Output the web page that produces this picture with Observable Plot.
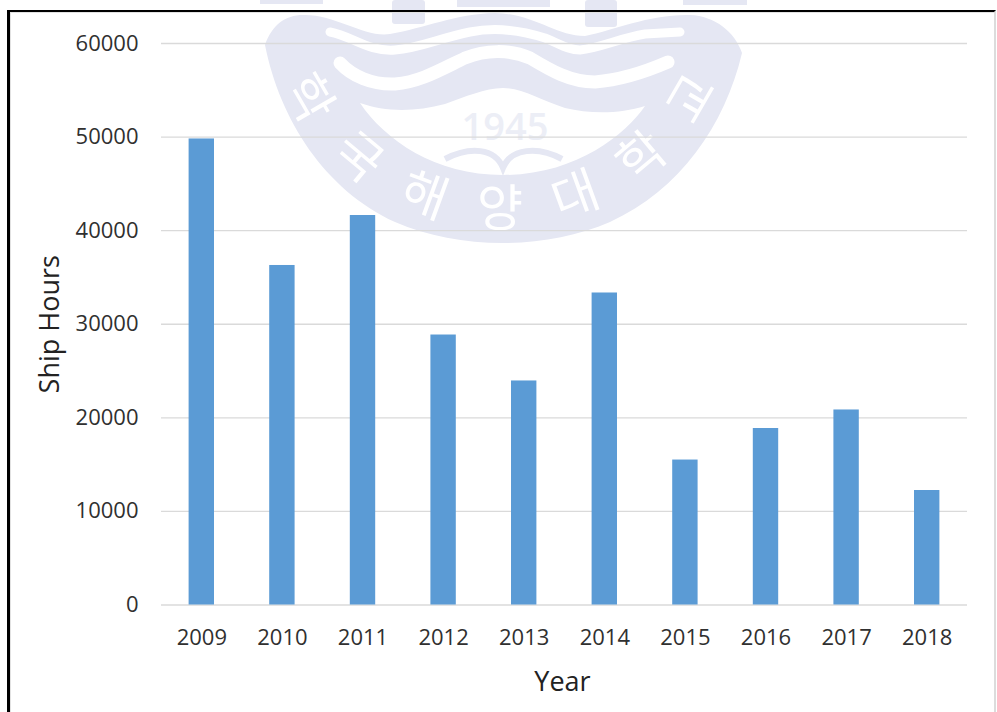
<!DOCTYPE html>
<html>
<head>
<meta charset="utf-8">
<script src="https://cdn.jsdelivr.net/npm/d3@7"></script>
<script src="https://cdn.jsdelivr.net/npm/@observablehq/plot@0.6"></script>
<style>
  html, body { margin: 0; padding: 0; background: #fff; width: 997px; height: 712px; overflow: hidden; }
  #wrap { position: relative; width: 997px; height: 712px; }
  #wm { position: absolute; left: 0; top: 0; }
  #chart { position: absolute; left: 0; top: 0; }
  #frame { position: absolute; left: 7px; top: 10px; width: 989px; height: 720px;
           box-sizing: border-box; border-left: 3px solid #000; border-top: 2px solid #000; border-right: 2px solid #dcdcdc;
           box-shadow: inset 1px 1px 0 #e2e2e2; }
</style>
</head>
<body>
<div id="wrap">
  <svg id="wm" width="997" height="712" viewBox="0 0 997 712">
    <g fill="#e5e7f3">
      <rect x="392" y="0" width="33" height="24" rx="3"/>
      <rect x="585" y="0" width="32" height="27" rx="3"/>
      <rect x="457" y="0" width="93" height="7"/>
      <rect x="683" y="0" width="64" height="5"/>
      <rect x="260" y="0" width="63" height="4"/>
      <path d="M265,45 C272,25 285,15 303,15 C335,14 365,38 390,34 C425,28 455,14 495,13 C535,14 555,36 585,36 C615,30 650,14 690,15 C715,16 735,32 742,53 C725,125 680,190 610,222 C545,250 460,250 395,222 C325,190 280,120 265,45 Z"/>
    </g>
    <g fill="none" stroke="#fff" stroke-linecap="round">
      <path stroke-width="9" d="M330,32 C352,36 368,52 395,50 C420,48 440,38 470,32 C495,27 520,30 545,38 C560,44 568,50 580,50 C600,48 620,38 645,34 L680,32"/>
      <path stroke-width="13" d="M340,63 C352,76 372,85 395,84 C420,82 440,70 465,58 C485,50 510,49 530,58 C550,70 570,82 595,82 C620,80 645,72 668,62"/>
    </g>
    <path fill="#fff" d="M360,103 C385,112 415,112 445,104 C465,97 485,88 503,88 C522,88 540,100 565,108 C590,114 620,114 645,106 C625,135 575,175 503,175 C435,175 385,140 360,103 Z"/>
    <text x="505" y="140" text-anchor="middle" font-family="Open Sans" font-weight="600" font-size="38" fill="#eceef6">1945</text>
    <path fill="none" stroke="#e5e7f3" stroke-width="6" d="M445,159 C470,146 495,148 503,168 C511,148 538,146 562,159"/>
    <g font-family="Noto Sans CJK KR" font-size="50" fill="#fff" text-anchor="middle">
      <text x="500" y="226" transform="rotate(60 500 -12)">학</text>
      <text x="500" y="226" transform="rotate(40 500 -12)">국</text>
      <text x="500" y="226" transform="rotate(20 500 -12)">해</text>
      <text x="500" y="226">양</text>
      <text x="500" y="226" transform="rotate(-20 500 -12)">대</text>
      <text x="500" y="226" transform="rotate(-40 500 -12)">학</text>
      <text x="500" y="226" transform="rotate(-60 500 -12)">교</text>
    </g>
  </svg>
  <div id="chart"></div>
  <div id="frame"></div>
</div>
<script>
const years = ["2009", "2010", "2011", "2012", "2013", "2014", "2015", "2016", "2017", "2018"];
const shipHours = [49800, 36280, 41620, 28850, 23940, 33340, 15490, 18860, 20840, 12235];
const yTicks = [0, 10000, 20000, 30000, 40000, 50000, 60000];
const rows = years.map((year, i) => ({year, hours: shipHours[i]}));

const textColor = "#303030";
const chart = Plot.plot({
  width: 997,
  height: 712,
  marginLeft: 161,
  marginRight: 30,
  marginTop: 43,
  marginBottom: 107.5,
  style: {background: "transparent", fontFamily: "'Open Sans', sans-serif", fontSize: "22px", color: textColor},
  x: {domain: years, paddingInner: 0.685, paddingOuter: 0.3425, align: 0.5, round: false},
  y: {domain: [0, 60000], nice: false},
  marks: [
    Plot.ruleY(yTicks, {stroke: "#dadada", strokeWidth: 1.4}),
    Plot.barY(rows, {x: "year", y: "hours", fill: "#5b9bd5"}),
    Plot.axisX({tickSize: 0, tickPadding: 24, label: null, fontSize: 22, color: textColor}),
    Plot.axisY({ticks: yTicks, tickSize: 0, tickPadding: 23, tickFormat: d => String(d), label: null, fontSize: 22, color: textColor}),
    Plot.text(["Year"], {frameAnchor: "bottom", dx: -2, dy: 86, fontSize: 27, fill: "#222222"}),
    Plot.text(["Ship Hours"], {frameAnchor: "left", textAnchor: "middle", dx: -111, rotate: -90, fontSize: 27, fill: "#222222"})
  ]
});
document.getElementById("chart").appendChild(chart);
</script>
</body>
</html>
